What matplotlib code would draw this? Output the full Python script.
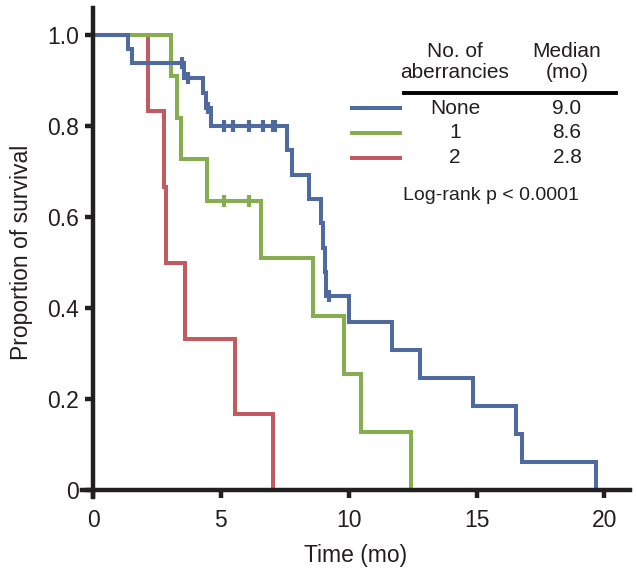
import matplotlib
matplotlib.use("Agg")
import matplotlib.pyplot as plt
from matplotlib.lines import Line2D

plt.rcParams['font.family'] = ['Liberation Sans', 'DejaVu Sans']

# Datos de las curvas (tiempo en meses, supervivencia)
none_t = [0, 1.35, 1.51, 3.55, 4.31, 4.41, 4.62, 7.6, 7.8, 8.45, 8.93, 9.0, 9.07, 9.13,
          10.0, 11.68, 12.77, 14.86, 16.55, 16.78, 19.68]
none_s = [1.0, 0.969, 0.938, 0.905, 0.872, 0.839, 0.8, 0.747, 0.693, 0.64, 0.587, 0.533,
          0.48, 0.427, 0.369, 0.308, 0.246, 0.185, 0.123, 0.062, 0.0]
none_cens_t = [3.48, 3.72, 4.5, 5.13, 5.46, 6.1, 6.63, 7.02, 7.12, 9.23]
none_cens_s = [0.938, 0.905, 0.839, 0.8, 0.8, 0.8, 0.8, 0.8, 0.8, 0.427]

one_t = [0, 3.05, 3.3, 3.46, 4.44, 6.56, 8.62, 9.82, 10.47, 12.42]
one_s = [1.0, 0.909, 0.818, 0.727, 0.636, 0.509, 0.382, 0.254, 0.127, 0.0]
one_cens_t = [5.13, 6.1]
one_cens_s = [0.636, 0.636]

two_t = [0, 2.16, 2.76, 2.85, 3.59, 5.55, 7.04]
two_s = [1.0, 0.833, 0.667, 0.5, 0.333, 0.167, 0.0]

groups = ['None', '1', '2']
medians = ['9.0', '8.6', '2.8']
colors = ['#4E6A9E', '#86AE50', '#C25B61']

x_ticks = [0, 5, 10, 15, 20]
y_ticks = [0, 0.2, 0.4, 0.6, 0.8, 1.0]
y_tick_labels = ['0', '0.2', '0.4', '0.6', '0.8', '1.0']

W, H = 637, 574
fig = plt.figure(figsize=(W / 100, H / 100), dpi=100)
ax = fig.add_axes([81.5 / W, 77.2 / H, 548.5 / W, 489 / H])

lw = 2.9
ax.step(two_t, two_s, where='post', color=colors[2], lw=lw, solid_joinstyle='miter')
ax.step(one_t, one_s, where='post', color=colors[1], lw=lw, solid_joinstyle='miter')
ax.plot(one_cens_t, one_cens_s, ls='none', marker='|', ms=9, mew=3, color=colors[1])
ax.step(none_t, none_s, where='post', color=colors[0], lw=lw, solid_joinstyle='miter')
ax.plot(none_cens_t, none_cens_s, ls='none', marker='|', ms=9, mew=3, color=colors[0])

ax.set_xlim(-0.45, 21.0)
ax.set_ylim(-0.015, 1.06)

axis_color = '#231F20'
for side in ['top', 'right']:
    ax.spines[side].set_visible(False)
ax.spines['left'].set_position(('data', 0))
ax.spines['bottom'].set_position(('data', 0))
for side in ['left', 'bottom']:
    ax.spines[side].set_linewidth(3.2)
    ax.spines[side].set_color(axis_color)

ax.set_xticks(x_ticks)
ax.set_yticks(y_ticks)
ax.set_yticklabels(y_tick_labels)
ax.tick_params(axis='both', length=6, width=3.2, color=axis_color, labelsize=16.5,
               labelcolor='#231F20', direction='out')
ax.tick_params(axis='x', pad=8)
ax.tick_params(axis='y', pad=4)

ax.set_xlabel('Time (mo)', fontsize=16.5, color='#231F20', labelpad=8)
ax.set_ylabel('Proportion of survival', fontsize=16.5, color='#231F20', labelpad=10)

# Leyenda hecha a mano (tabla)
def fx(px):
    return px / W

def fy(py):
    return 1 - py / H

fs = 15
fig.text(fx(455), fy(62), 'No. of\naberrancies', ha='center', va='center', fontsize=fs,
         linespacing=1.15, color='#231F20')
fig.text(fx(567), fy(62), 'Median\n(mo)', ha='center', va='center', fontsize=fs,
         linespacing=1.15, color='#231F20')
fig.add_artist(Line2D([fx(404), fx(616)], [fy(92.5), fy(92.5)], color='black', lw=2.8))

row_y = [108, 132.5, 157.5]
for g, m, c, y in zip(groups, medians, colors, row_y):
    fig.add_artist(Line2D([fx(351.5), fx(400.5)], [fy(y), fy(y)], color=c, lw=2.9))
    fig.text(fx(455), fy(y), g, ha='center', va='center', fontsize=fs, color='#231F20')
    fig.text(fx(567), fy(y), m, ha='center', va='center', fontsize=fs, color='#231F20')

fig.text(fx(491), fy(195), 'Log-rank p < 0.0001', ha='center', va='center', fontsize=14,
         color='#231F20')

fig.savefig('out.png', dpi=100)
